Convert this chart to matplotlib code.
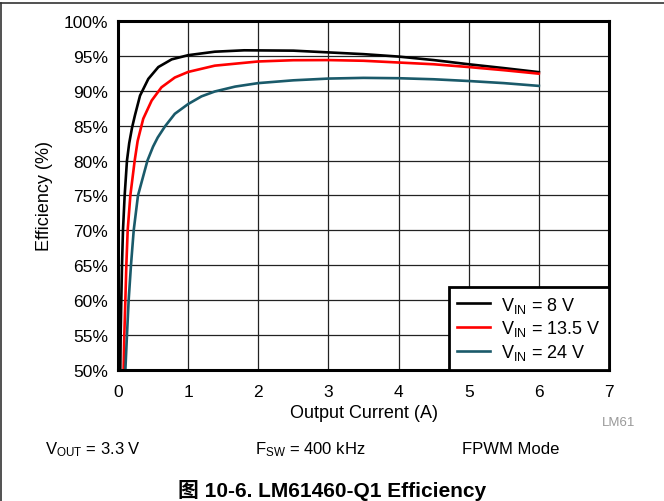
import matplotlib
matplotlib.use("Agg")
import matplotlib.pyplot as plt
from matplotlib.lines import Line2D

plt.rcParams['font.family'] = ['Liberation Sans', 'Noto Sans CJK SC', 'DejaVu Sans']
plt.rcParams['mathtext.fontset'] = 'custom'
plt.rcParams['mathtext.rm'] = 'Liberation Sans'
plt.rcParams['mathtext.it'] = 'Liberation Sans'

# Data
i_8 = [0.033, 0.038, 0.047, 0.057, 0.071, 0.095, 0.128, 0.16, 0.2, 0.242, 0.314, 0.432,
       0.575, 0.765, 1.0, 1.38, 1.8, 2.5, 3.0, 3.5, 4.0, 4.5, 5.0, 5.5, 6.0]
eff_8 = [50, 55, 60, 65, 70, 75, 80, 82.5, 84.7, 86.5, 89.3, 91.7,
         93.4, 94.5, 95.1, 95.6, 95.8, 95.75, 95.5, 95.25, 94.9, 94.4, 93.8, 93.25, 92.67]

i_135 = [0.08, 0.09, 0.105, 0.119, 0.138, 0.176, 0.238, 0.28, 0.36, 0.48, 0.62, 0.81,
         1.0, 1.38, 2.0, 2.5, 3.0, 3.5, 4.0, 4.5, 5.0, 5.5, 6.0]
eff_135 = [50, 55, 60, 65, 70, 75, 80, 82.8, 86.0, 88.6, 90.5, 91.9,
           92.7, 93.6, 94.2, 94.38, 94.4, 94.3, 94.05, 93.8, 93.4, 92.95, 92.45]

i_24 = [0.105, 0.128, 0.152, 0.185, 0.224, 0.285, 0.42, 0.5, 0.566, 0.67, 0.81, 1.0,
        1.19, 1.38, 1.67, 2.0, 2.5, 3.0, 3.5, 4.0, 4.5, 5.0, 5.5, 6.0]
eff_24 = [50, 55, 60, 65, 70, 75, 80, 82.0, 83.3, 84.9, 86.7, 88.1,
          89.2, 89.9, 90.6, 91.1, 91.5, 91.75, 91.85, 91.8, 91.65, 91.4, 91.1, 90.7]

x_ticks = [0, 1, 2, 3, 4, 5, 6, 7]
y_ticks = [50, 55, 60, 65, 70, 75, 80, 85, 90, 95, 100]
y_tick_labels = [f"{v}%" for v in y_ticks]
series_labels = [r'V$_{\mathregular{IN}}$ = 8 V', r'V$_{\mathregular{IN}}$ = 13.5 V', r'V$_{\mathregular{IN}}$ = 24 V']
series_colors = ['#000000', '#ff0000', '#1a5a6a']

fig = plt.figure(figsize=(6.64, 5.02), dpi=100)
ax = fig.add_axes([0.1777, 0.2610, 0.7395, 0.6952])

for xs, ys, c, lab in zip([i_8, i_135, i_24], [eff_8, eff_135, eff_24], series_colors, series_labels):
    ax.plot(xs, ys, color=c, lw=1.9, label=lab, solid_joinstyle='round')

ax.set_xlim(0, 7)
ax.set_ylim(50, 100)
ax.set_xticks(x_ticks)
ax.set_yticks(y_ticks)
ax.set_yticklabels(y_tick_labels)
ax.tick_params(length=0, labelsize=12.5)
ax.tick_params(axis='y', pad=7)
ax.tick_params(axis='x', pad=10)
ax.grid(True, color='#222222', lw=0.9)
ax.set_axisbelow(True)
for s in ax.spines.values():
    s.set_linewidth(2.2)
ax.set_xlabel('Output Current (A)', fontsize=13, labelpad=4)
ax.set_ylabel('Efficiency (%)', fontsize=13, labelpad=8)

leg = ax.legend(loc='lower right', fontsize=13, frameon=True, fancybox=False,
                edgecolor='black', borderaxespad=0, handlelength=1.85,
                labelspacing=0.2, borderpad=0.45, handletextpad=0.6)
leg.get_frame().set_linewidth(2)
leg.get_frame().set_alpha(1)

fig.text(0.957, 0.157, 'LM61', fontsize=9.5, color='#999999', ha='right', va='center')
fig.text(0.068, 0.105, r'V$_{\mathregular{OUT}}$ = 3.3 V', fontsize=12, ha='left', va='center')
fig.text(0.384, 0.105, r'F$_{\mathregular{SW}}$ = 400 kHz', fontsize=12, ha='left', va='center')
fig.text(0.696, 0.105, 'FPWM Mode', fontsize=12, ha='left', va='center')
fig.text(0.5, 0.022, '图 10-6. LM61460-Q1 Efficiency', fontsize=15, fontweight='bold',
         ha='center', va='center')

fig.add_artist(Line2D([0, 1], [0.992, 0.992], transform=fig.transFigure, color='#333333', lw=1.2))
fig.add_artist(Line2D([0.0015, 0.0015], [0, 0.992], transform=fig.transFigure, color='#333333', lw=1.2))

fig.savefig('out.png', dpi=100)
